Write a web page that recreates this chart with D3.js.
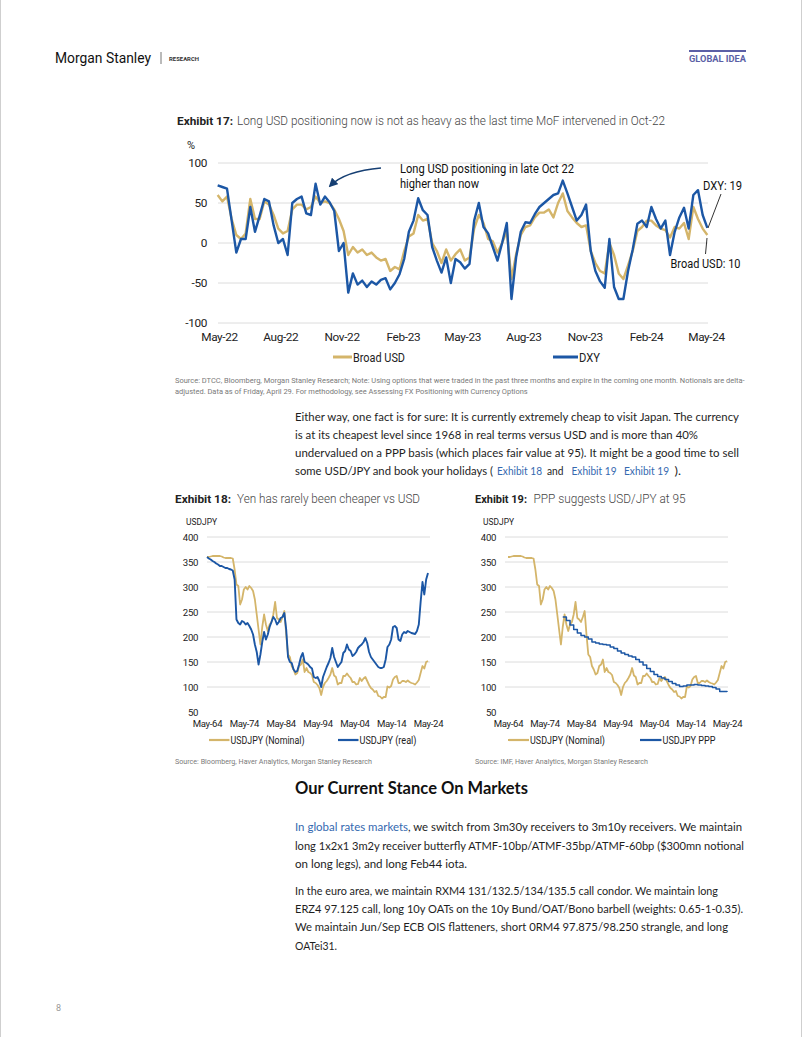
<!DOCTYPE html>
<html><head><meta charset="utf-8">
<script src="https://cdn.jsdelivr.net/npm/d3@7"></script>
<style>body{margin:0;background:#fff}svg{display:block}text{white-space:pre}</style>
</head><body>
<script>
// ---------------- DATA ----------------
// Exhibit 17: weekly positioning (%), from end-Apr 2022 to end-Apr 2024
const ex17Start = "2022-04-29";
const dxy = [72,70,68,28,-12,5,5,45,14,34,55,52,22,0,5,-15,50,55,58,37,35,74,48,58,51,40,-10,0,-62,-38,
  -52,-47,-55,-48,-52,-46,-44,-58,-50,-39,-20,14,28,56,41,35,-5,-22,-37,-18,-50,-20,-24,-32,-26,28,50,20,12,-5,
  -22,0,25,-70,-18,14,26,25,36,45,50,55,60,62,78,62,45,28,35,48,-10,-35,-48,-56,5,-55,-70,-70,-35,-8,
  24,28,20,45,30,18,28,-15,14,32,44,18,60,66,35,19];
const broadUsd = [60,52,58,30,10,5,12,55,30,30,52,48,35,18,12,15,42,48,48,42,45,58,50,52,50,42,30,15,-15,-5,
  -12,-8,-15,-12,-18,-22,-20,-35,-30,-33,-10,8,12,35,28,30,0,-10,-25,-8,-22,-14,-8,-22,-18,18,35,25,5,2,
  -12,0,15,-45,-14,10,20,22,32,38,38,42,32,50,62,40,32,25,20,22,-10,-25,-35,-38,0,-15,-38,-45,-28,-10,
  15,20,28,28,22,18,16,7,20,18,25,5,45,30,18,10];
const ex17XTicks = ["May-22","Aug-22","Nov-22","Feb-23","May-23","Aug-23","Nov-23","Feb-24","May-24"];
const ex17YTicks = [100,50,0,-50,-100];

// Exhibits 18/19: USDJPY, semi-annual (May / Nov) from May-64 to May-24
const jpyStart = "1964-05-01";
const nominal = [360,360,361,362,362,362,362,362,361,359,358,358,358,358,357,335,305,302,265,275,
  295,300,295,302,298,292,275,245,215,185,220,245,225,212,225,230,245,270,238,235,
  230,240,252,205,165,160,142,135,125,128,142,145,155,130,138,130,128,124,110,108,
  104,98,84,100,108,112,118,125,138,123,120,105,108,108,122,122,127,122,118,110,
  110,105,106,118,112,117,120,112,104,98,95,90,92,82,81,77,80,80,101,99,
  102,115,120,122,108,108,112,112,110,113,110,108,107,105,109,114,128,142,137,150,152];
const real = [360,357,355,352,350,347,345,342,342,340,338,338,336,335,333,315,235,228,225,232,
  230,225,228,222,215,205,185,170,145,165,190,210,195,205,220,230,240,235,225,230,
  238,240,248,215,160,150,148,135,130,132,145,160,168,150,148,145,140,137,120,118,
  120,112,100,120,130,140,148,158,178,160,150,140,145,150,168,172,185,175,172,162,
  165,170,178,182,185,190,198,188,170,160,155,150,145,140,138,138,140,155,180,185,
  195,220,222,218,195,192,205,210,208,212,210,208,207,206,212,225,270,310,285,315,328];
// PPP, annual from 1979
const pppStartYear = 1979;
const ppp = [240,233,224,215,208,203,200,196,190,188,186,185,184,180,177,172,168,165,162,160,
  155,150,144,137,131,125,121,118,115,111,107,104,101,102,104,104,105,104,103,102,101,99,96,91,91,90];
const jpyXTicks = ["May-64","May-74","May-84","May-94","May-04","May-14","May-24"];
const jpyYTicks = [400,350,300,250,200,150,100,50];

// ---------------- STYLE ----------------
const GOLD = "#d4b56a", BLUE = "#1c57a5", GRID = "#dcdcdc", TXT = "#222";
const W = 802, H = 1037;

const svg = d3.select("body").append("svg").attr("width", W).attr("height", H)
  .style("font-family", "Roboto, sans-serif");
svg.append("rect").attr("width", W).attr("height", H).attr("fill", "#fff");
svg.append("line").attr("x1",0.5).attr("x2",0.5).attr("y1",0).attr("y2",H).attr("stroke","#cfcfcf");
svg.append("line").attr("x1",W-0.5).attr("x2",W-0.5).attr("y1",0).attr("y2",H).attr("stroke","#cfcfcf");

function label(x, y, parts, o = {}) {
  const t = svg.append("text").attr("x", x).attr("y", y)
    .attr("font-size", o.size || 12).attr("font-family", o.family || "Roboto")
    .attr("font-weight", o.weight || 400).attr("fill", o.fill || TXT)
    .attr("text-anchor", o.anchor || "start");
  if (typeof parts === "string") parts = [[parts, null]];
  parts.forEach(([s, c]) => { const ts = t.append("tspan").text(s); if (c) ts.attr("fill", c); });
  if (o.width) t.attr("textLength", o.width).attr("lengthAdjust", "spacingAndGlyphs");
  if (o.ls != null) t.attr("letter-spacing", o.ls);
  return t;
}

// "May-64" -> Date (two-digit years >= 50 belong to the 1900s)
const parseMonYear = d3.timeParse("%b %Y");
function parseMY(s) {
  const [m, yy] = s.split("-");
  const year = +yy >= 50 ? 1900 + +yy : 2000 + +yy;
  return parseMonYear(m + " " + year);
}
const fmtMY = d3.timeFormat("%b-%y");

// ---------------- HEADER ----------------
label(55, 62.5, "Morgan Stanley", {size: 15.5, fill: "#111", width: 96});
svg.append("line").attr("x1",161).attr("x2",161).attr("y1",52).attr("y2",64).attr("stroke","#777");
label(169, 60.5, "RESEARCH", {size: 5.5, weight: 700, fill: "#333", width: 30});
svg.append("rect").attr("x",689).attr("y",50).attr("width",57).attr("height",2).attr("fill","#5b5fa6");
label(689, 62, "GLOBAL IDEA", {size: 8.5, weight: 700, fill: "#5b5fa6", width: 57});

// ---------------- EXHIBIT 17 ----------------
label(177, 124.5, "Exhibit 17:", {size: 11.5, weight: 700, width: 56});
label(237, 124.5, "Long USD positioning now is not as heavy as the last time MoF intervened in Oct-22",
  {size: 12.5, weight: 300, fill: "#444", width: 428});
label(187, 149, "%", {size: 11});

const d17 = d3.range(dxy.length).map(i => d3.timeWeek.offset(new Date(ex17Start + "T00:00:00"), i));
const x17 = d3.scaleTime().domain([parseMY("May-22"), parseMY("May-24")]).range([219, 706]);
const y17 = d3.scaleLinear().domain([-100, 100]).range([323, 163]);

svg.append("g").selectAll("line").data(ex17YTicks).join("line")
  .attr("x1", 218).attr("x2", 708).attr("y1", d => y17(d)).attr("y2", d => y17(d))
  .attr("stroke", GRID).attr("stroke-width", 1);

const ay17 = svg.append("g").attr("transform", "translate(219,0)")
  .call(d3.axisLeft(y17).tickValues(ex17YTicks).tickSize(0).tickPadding(12).tickFormat(d => String(d)));
const ax17 = svg.append("g").attr("transform", "translate(0,323)")
  .call(d3.axisBottom(x17).tickValues(ex17XTicks.map(parseMY)).tickSize(0).tickPadding(10)
    .tickFormat(fmtMY));
[ay17, ax17].forEach(a => {
  a.select(".domain").remove();
  a.selectAll("text").attr("font-family", "Roboto").attr("font-size", 11.8).attr("fill", TXT)
    .attr("letter-spacing", -0.35);
});

const line17 = d3.line().x((d, i) => x17(d17[i])).y(d => y17(d)).curve(d3.curveLinear);
svg.append("path").datum(broadUsd).attr("d", line17).attr("fill", "none")
  .attr("stroke", GOLD).attr("stroke-width", 2.4).attr("stroke-linejoin", "round");
svg.append("path").datum(dxy).attr("d", line17).attr("fill", "none")
  .attr("stroke", BLUE).attr("stroke-width", 2.4).attr("stroke-linejoin", "round");

// annotation
const defs = svg.append("defs");
defs.append("marker").attr("id", "arr").attr("viewBox", "0 0 10 10").attr("refX", 8).attr("refY", 5)
  .attr("markerWidth", 7).attr("markerHeight", 7).attr("orient", "auto")
  .append("path").attr("d", "M0,0L10,5L0,10z").attr("fill", "#163f73");
svg.append("path").attr("d", "M381,168 Q345,171 330,186").attr("fill", "none")
  .attr("stroke", "#163f73").attr("stroke-width", 1.3).attr("marker-end", "url(#arr)");
label(400, 172.5, "Long USD positioning in late Oct 22", {size: 12, fill: "#111", width: 174});
label(400, 188, "higher than now", {size: 12, fill: "#111", width: 79});
label(703, 189.5, "DXY: 19", {size: 12, fill: "#111", width: 39});
svg.append("line").attr("x1", 721).attr("y1", 194).attr("x2", 708).attr("y2", 228).attr("stroke", "#333").attr("stroke-width", 1);
label(670.5, 267.5, "Broad USD: 10", {size: 12, fill: "#111", width: 70});
svg.append("line").attr("x1", 707).attr("y1", 238).attr("x2", 705.5).attr("y2", 254).attr("stroke", "#333").attr("stroke-width", 1);

// legend
svg.append("line").attr("x1", 333).attr("x2", 352).attr("y1", 357).attr("y2", 357).attr("stroke", GOLD).attr("stroke-width", 3);
label(353, 361.5, "Broad USD", {size: 12, width: 52});
svg.append("line").attr("x1", 553).attr("x2", 578).attr("y1", 357).attr("y2", 357).attr("stroke", BLUE).attr("stroke-width", 3);
label(579, 361.5, "DXY", {size: 12, width: 21});

// source
const s1 = label(175, 383, "Source: DTCC, Bloomberg, Morgan Stanley Research; Note: Using options that were traded in the past three months and expire in the coming one month. Notionals are delta-", {size: 7, fill: "#7a7a7a"});
const f1 = 7 * 570 / s1.node().getComputedTextLength();
s1.attr("font-size", f1);
label(175, 394, "adjusted. Data as of Friday, April 29. For methodology, see Assessing FX Positioning with Currency Options", {size: f1, fill: "#7a7a7a"});

// ---------------- BODY TEXT 1 ----------------
const BODY = {size: 11.6, family: "Lato", fill: "#1e1e1e"};
const LINK = "#3569b0";
label(295, 420.5, "Either way, one fact is for sure: It is currently extremely cheap to visit Japan. The currency", {...BODY, width: 444});
label(295, 438.5, "is at its cheapest level since 1968 in real terms versus USD and is more than 40%", {...BODY, width: 403});
label(295, 456.5, "undervalued on a PPP basis (which places fair value at 95). It might be a good time to sell", {...BODY, width: 444});
label(295, 474.5, "some USD/JPY and book your holidays (", {...BODY, width: 198});
label(497, 474.5, "Exhibit 18", {...BODY, fill: LINK, width: 45});
label(547, 474.5, "and", {...BODY, width: 16.5});
label(571.5, 474.5, "Exhibit 19", {...BODY, fill: LINK, width: 45});
label(624, 474.5, "Exhibit 19", {...BODY, fill: LINK, width: 45});
label(674.5, 474.5, ").", {...BODY, width: 6.5});

// ---------------- EXHIBITS 18 / 19 ----------------
const dJ = d3.range(nominal.length).map(i => d3.timeMonth.offset(new Date(jpyStart + "T00:00:00"), 6 * i));
const dP = d3.range(ppp.length).map(i => new Date(pppStartYear + i, 4, 1));

function smallChart(o) {
  const x = d3.scaleTime().domain([parseMY(jpyXTicks[0]), parseMY(jpyXTicks[jpyXTicks.length - 1])]).range([o.x0, o.x1]);
  const y = d3.scaleLinear().domain([50, 400]).range([712, 537]);
  label(o.tx, 502.5, o.ex, {size: 11.5, weight: 700, width: o.exW});
  label(o.sx, 502.5, o.sub, {size: 12.5, weight: 300, fill: "#444", width: o.subW});
  label(o.ux, 525, "USDJPY", {size: 9.5, width: 31});
  svg.append("g").selectAll("line").data(jpyYTicks.filter(d => d > 50)).join("line")
    .attr("x1", o.g0).attr("x2", o.g1).attr("y1", d => y(d)).attr("y2", d => y(d))
    .attr("stroke", GRID).attr("stroke-width", 1);
  const ay = svg.append("g").attr("transform", `translate(${o.g0},0)`)
    .call(d3.axisLeft(y).tickValues(jpyYTicks).tickSize(0).tickPadding(o.yPad).tickFormat(d => String(d)));
  const ax = svg.append("g").attr("transform", "translate(0,712)")
    .call(d3.axisBottom(x).tickValues(jpyXTicks.map(parseMY)).tickSize(0).tickPadding(8)
      .tickFormat(fmtMY));
  [ay, ax].forEach(a => {
    a.select(".domain").remove();
    a.selectAll("text").attr("font-family", "Roboto").attr("font-size", 9.6).attr("fill", TXT).attr("letter-spacing", -0.35);
  });
  o.series.forEach(s => {
    svg.append("path").datum(s.values).attr("fill", "none").attr("stroke", s.color)
      .attr("stroke-width", s.w).attr("stroke-linejoin", "round")
      .attr("d", d3.line().x((d, i) => x(s.dates[i])).y(d => y(d)).curve(s.curve || d3.curveLinear));
  });
  o.legend.forEach(l => {
    svg.append("line").attr("x1", l.a).attr("x2", l.b).attr("y1", 740).attr("y2", 740).attr("stroke", l.color).attr("stroke-width", 2.2);
    label(l.b + 1, 743.5, l.text, {size: 10, width: l.w});
  });
  label(o.tx, 763.5, o.src, {size: 6.6, fill: "#7a7a7a", width: o.srcW});
}

smallChart({
  x0: 207, x1: 428, g0: 207, g1: 430, yPad: 9, tx: 175, sx: 237, ux: 186,
  ex: "Exhibit 18:", exW: 56, sub: "Yen has rarely been cheaper vs USD", subW: 183,
  series: [
    {values: nominal, dates: dJ, color: GOLD, w: 1.8},
    {values: real, dates: dJ, color: BLUE, w: 1.9}
  ],
  legend: [
    {a: 209, b: 229.5, color: GOLD, text: "USDJPY (Nominal)", w: 74},
    {a: 338, b: 358.5, color: BLUE, text: "USDJPY (real)", w: 57}
  ],
  src: "Source: Bloomberg, Haver Analytics, Morgan Stanley Research", srcW: 197
});

smallChart({
  x0: 508, x1: 727, g0: 505, g1: 728, yPad: 9, tx: 475, sx: 533.5, ux: 483,
  ex: "Exhibit 19:", exW: 52, sub: "PPP suggests USD/JPY at 95", subW: 152,
  series: [
    {values: nominal, dates: dJ, color: GOLD, w: 1.8},
    {values: ppp, dates: dP, color: BLUE, w: 1.5, curve: d3.curveStepAfter}
  ],
  legend: [
    {a: 508, b: 529, color: GOLD, text: "USDJPY (Nominal)", w: 75},
    {a: 640, b: 661.5, color: BLUE, text: "USDJPY PPP", w: 53}
  ],
  src: "Source: IMF, Haver Analytics, Morgan Stanley Research", srcW: 173
});

// ---------------- BODY TEXT 2 ----------------
label(295, 794, "Our Current Stance On Markets", {size: 16.5, family: "Lato", weight: 700, fill: "#111", width: 233});
label(295, 831, "In global rates markets", {...BODY, fill: LINK, width: 113});
label(408, 831, ", we switch from 3m30y receivers to 3m10y receivers. We maintain", {...BODY, width: 334});
label(295, 849.5, "long 1x2x1 3m2y receiver butterfly ATMF-10bp/ATMF-35bp/ATMF-60bp ($300mn notional", {...BODY, width: 449});
label(295, 868, "on long legs), and long Feb44 iota.", {...BODY, width: 172});
label(295, 894.5, "In the euro area, we maintain RXM4 131/132.5/134/135.5 call condor. We maintain long", {...BODY, width: 423});
label(295, 913, "ERZ4 97.125 call, long 10y OATs on the 10y Bund/OAT/Bono barbell (weights: 0.65-1-0.35).", {...BODY, width: 448});
label(295, 931, "We maintain Jun/Sep ECB OIS flatteners, short 0RM4 97.875/98.250 strangle, and long", {...BODY, width: 433});
label(295, 949.5, "OATei31.", {...BODY, width: 42});

label(56, 1011, "8", {size: 9, fill: "#999"});
</script>
</body></html>
